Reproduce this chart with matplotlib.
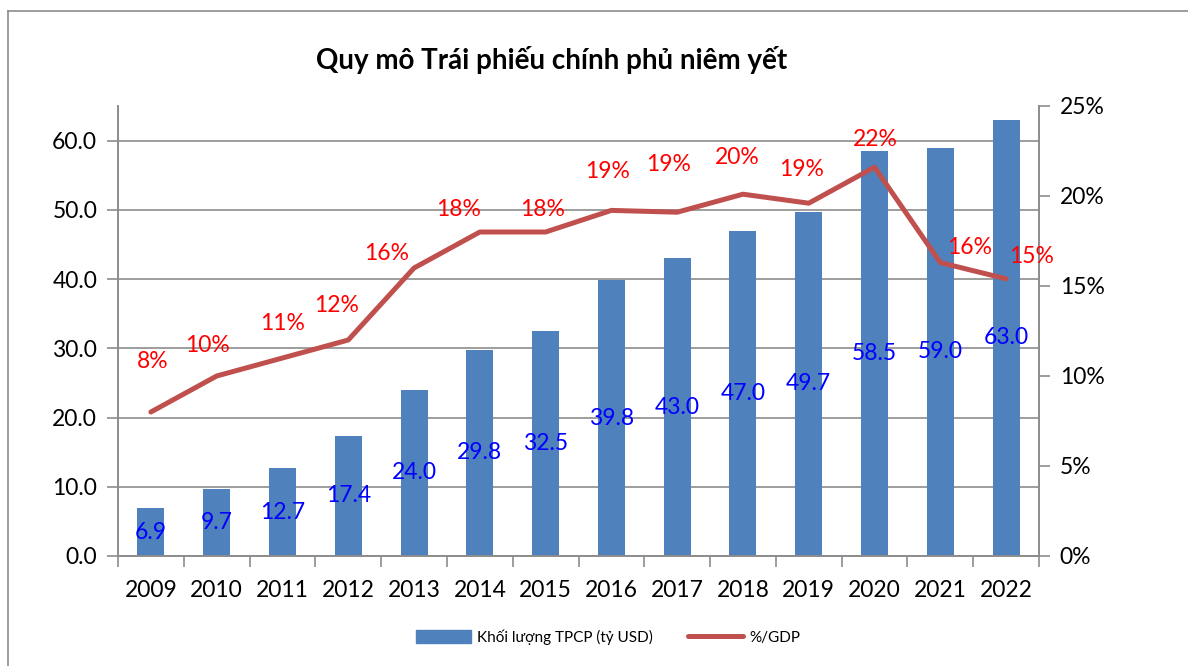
import matplotlib
matplotlib.use("Agg")
import matplotlib.pyplot as plt
from matplotlib.lines import Line2D
from matplotlib.ticker import FixedLocator

plt.rcParams["font.family"] = ["Lato", "Open Sans", "DejaVu Sans"]

years = ["2009", "2010", "2011", "2012", "2013", "2014", "2015",
         "2016", "2017", "2018", "2019", "2020", "2021", "2022"]
volume = [6.9, 9.7, 12.7, 17.4, 24.0, 29.8, 32.5, 39.8, 43.0, 47.0, 49.7, 58.5, 59.0, 63.0]
pct_gdp = [8.0, 10.0, 11.0, 12.0, 16.0, 18.0, 18.0, 19.2, 19.1, 20.1, 19.6, 21.6, 16.3, 15.4]
pct_labels = ["8%", "10%", "11%", "12%", "16%", "18%", "18%",
              "19%", "19%", "20%", "19%", "22%", "16%", "15%"]

# label offsets in pixels (dx, dy) from each point, hand placed like the original
pct_offsets = [(2, 50), (-9, 30), (0, 35), (-12, 34), (-27, 14), (-21, 22), (-3, 22),
               (-4, 39), (-9, 48), (-6, 37), (-7, 34), (1, 28), (29, 15), (25, 22)]

BAR_COLOR = "#4F81BD"
LINE_COLOR = "#C0504D"
GRID_COLOR = "#8C8C8C"
FS = 16.5

fig = plt.figure(figsize=(11.88, 6.66), dpi=100)
ax = fig.add_axes([118 / 1188, 1 - 556 / 666, (1039 - 118) / 1188, (556 - 106) / 666])
x = list(range(len(years)))

ax.bar(x, volume, width=0.41, color=BAR_COLOR, zorder=2)
for xi, v in zip(x, volume):
    ax.text(xi, v / 2, f"{v:.1f}", color="#0000FF", fontsize=FS,
            ha="center", va="center", zorder=3)

ax.set_xlim(-0.5, len(years) - 0.5)
ax.set_ylim(0, 65)
ax.yaxis.set_major_locator(FixedLocator([0, 10, 20, 30, 40, 50, 60]))
ax.set_yticklabels([f"{v:.1f}" for v in range(0, 70, 10)])
ax.set_xticks(x)
ax.set_xticklabels(years)
ax.xaxis.set_minor_locator(FixedLocator([i - 0.5 for i in range(len(years) + 1)]))
ax.tick_params(axis="x", which="major", length=0, labelsize=FS, pad=17)
ax.tick_params(axis="x", which="minor", length=8, color=GRID_COLOR, width=1.2)
ax.tick_params(axis="y", length=8, color=GRID_COLOR, width=1.2, labelsize=FS, pad=7)
ax.grid(axis="y", color=GRID_COLOR, linewidth=1.2, zorder=0)
ax.set_axisbelow(True)
for side in ["left", "bottom", "right"]:
    ax.spines[side].set_color(GRID_COLOR)
    ax.spines[side].set_linewidth(1.2)
ax.spines["top"].set_visible(False)

ax2 = ax.twinx()
ax2.plot(x, pct_gdp, color=LINE_COLOR, linewidth=3.6, solid_capstyle="round", zorder=4)
for xi, p, lab, (dx, dy) in zip(x, pct_gdp, pct_labels, pct_offsets):
    ax2.annotate(lab, (xi, p), xytext=(dx, dy), textcoords="offset pixels",
                 color="#FF0000", fontsize=FS, ha="center", va="center")
ax2.set_ylim(0, 25)
ax2.yaxis.set_major_locator(FixedLocator([0, 5, 10, 15, 20, 25]))
ax2.set_yticklabels([f"{v}%" for v in range(0, 30, 5)])
ax2.tick_params(axis="y", length=8, color=GRID_COLOR, width=1.2, labelsize=FS, pad=7)
for side in ["left", "bottom", "right"]:
    ax2.spines[side].set_color(GRID_COLOR)
    ax2.spines[side].set_linewidth(1.2)
ax2.spines["top"].set_visible(False)

fig.text(552 / 1188, 1 - 60 / 666, "Quy mô Trái phiếu chính phủ niêm yết",
         fontsize=20, fontweight="bold", ha="center", va="center")

handles = [plt.Rectangle((0, 0), 1, 1, color=BAR_COLOR),
           Line2D([0], [0], color=LINE_COLOR, linewidth=3.6, solid_capstyle="round")]
fig.legend(handles, ["Khối lượng TPCP (tỷ USD)", "%/GDP"], loc="center",
           bbox_to_anchor=(608 / 1188, 1 - 637 / 666), ncol=2, frameon=False,
           fontsize=11, handlelength=3.6, handleheight=0.9, columnspacing=2.3,
           handletextpad=0.4)

# outer chart frame (top and left edges visible in the original)
fig.add_artist(Line2D([8 / 1188, 8 / 1188], [0, 1 - 11 / 666], color=GRID_COLOR, linewidth=1.2))
fig.add_artist(Line2D([8 / 1188, 1], [1 - 11 / 666, 1 - 11 / 666], color=GRID_COLOR, linewidth=1.2))

fig.savefig("out.png", dpi=100)
plt.close(fig)
